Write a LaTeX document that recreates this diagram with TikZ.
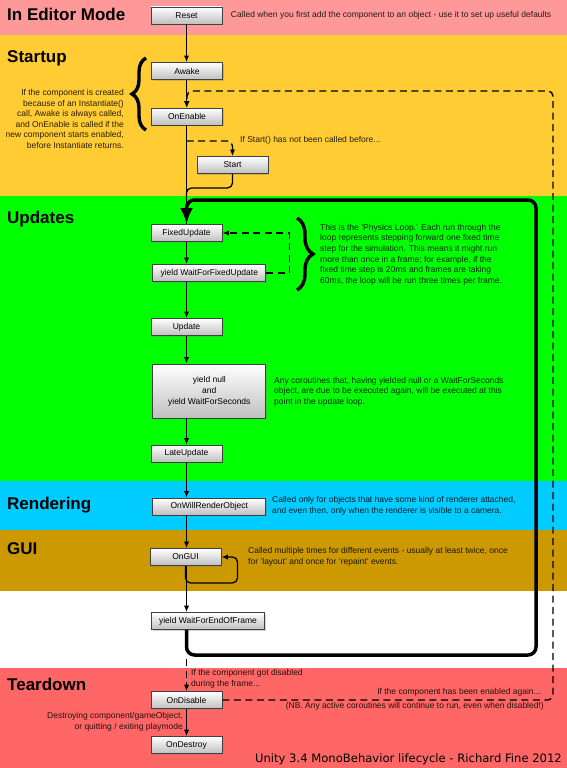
\documentclass[tikz,border=0pt]{standalone}
\usepackage{fontspec}
\setmainfont{Liberation Sans}
\newfontfamily\titlefont{DejaVu Sans}
\usetikzlibrary{arrows.meta, positioning, calc, shadows, decorations.pathreplacing}
\definecolor{editorpink}{RGB}{255,153,153}
\definecolor{startupyellow}{RGB}{255,204,51}
\definecolor{updategreen}{RGB}{0,255,0}
\definecolor{rendercyan}{RGB}{0,204,255}
\definecolor{guigold}{RGB}{204,153,0}
\definecolor{teardownred}{RGB}{255,102,102}
\tikzset{
    method/.style={rectangle, draw=black!75, line width=0.9pt, top color=white, bottom color=black!25, minimum width=71pt, minimum height=17pt, inner sep=0pt, align=center, font=\fontsize{8.5}{11}\selectfont, drop shadow={shadow xshift=1.2pt, shadow yshift=-1.2pt, opacity=0.35}},
    widemethod/.style={method, minimum width=113pt},
    note/.style={inner sep=0pt, font=\fontsize{8.5}{10.6}\selectfont, text opacity=0.85},
    phase/.style={anchor=base west, inner sep=0pt, font=\fontsize{17}{17}\selectfont\bfseries},
    flow/.style={-{Latex[length=6.5pt,width=5.5pt]}, line width=1.3pt},
    maybe/.style={-{Latex[length=6.5pt,width=5.5pt]}, line width=1.4pt, dash pattern=on 7pt off 4.5pt},
    frameloop/.style={-{Latex[length=16pt,width=13pt]}, line width=3.5pt, rounded corners=8pt},
    curly/.style={line width=3.4pt, decorate, decoration={brace, amplitude=#1}},
}

\begin{document}
\begin{tikzpicture}[x=1pt, y=-1pt]
    \useasboundingbox (0,0) rectangle (567,768);
    % phase bands
    \fill[editorpink] (0,0) rectangle (567,35);
    \fill[startupyellow] (0,35) rectangle (567,196);
    \fill[updategreen] (0,196) rectangle (567,481);
    \fill[rendercyan] (0,481) rectangle (567,530);
    \fill[guigold] (0,530) rectangle (567,591);
    \fill[white] (0,591) rectangle (567,668);
    \fill[teardownred] (0,668) rectangle (567,768);
    \node[phase] (editorhead) at (7,21) {In Editor Mode};
    \node[phase] (startuphead) at (7,63) {Startup};
    \node[phase] (updatehead) at (7,223) {Updates};
    \node[phase] (renderhead) at (7,509) {Rendering};
    \node[phase] (guihead) at (7,554.5) {GUI};
    \node[phase] (teardownhead) at (7,690.5) {Teardown};

    % methods
    \coordinate (spine) at (186.5,0);
    \node[method] (reset) at (186.5,15.5) {Reset};
    \node[method] (awake) at (187,71) {Awake};
    \node[method] (onenable) at (187,116.5) {OnEnable};
    \node[method] (start) at (232.5,165) {Start};
    \node[method] (fixedupdate) at (186.5,233) {FixedUpdate};
    \node[widemethod] (waitfixed) at (209.3,273) {yield WaitForFixedUpdate};
    \node[method] (update) at (186.5,327) {Update};
    \node[widemethod, minimum height=54pt] (yieldnull) at (209.3,391) {yield null\\and\\yield WaitForSeconds};
    \node[method] (lateupdate) at (186.5,453.5) {LateUpdate};
    \node[widemethod] (willrender) at (209.3,506.5) {OnWillRenderObject};
    \node[method] (ongui) at (185.5,557) {OnGUI};
    \node[widemethod] (endofframe) at (208,621) {yield WaitForEndOfFrame};
    \node[method] (ondisable) at (186.5,700) {OnDisable};
    \node[method] (ondestroy) at (186.5,745) {OnDestroy};

    % notes
    \node[note, anchor=west] (resetnote) at (230.7,15.5) {Called when you first add the component to an object - use it to set up useful defaults};
    \node[note, anchor=east, align=right] (instantiatenote) at (124,119) {If the component is created\\because of an Instantiate()\\call, Awake is always called,\\and OnEnable is called if the\\new component starts enabled,\\before Instantiate returns.};
    \node[note, anchor=west] (startnote) at (240,140) {If Start() has not been called before...};
    \node[note, anchor=west, align=left] (physicsnote) at (320,254.5) {This is the 'Physics Loop.' Each run through the\\loop represents stepping forward one fixed time\\step for the simulation. This means it might run\\more than once in a frame; for example, if the\\fixed time step is 20ms and frames are taking\\60ms, the loop will be run three times per frame.};
    \node[note, anchor=west, align=left] (coroutinenote) at (274,391.5) {Any coroutines that, having yielded null or a WaitForSeconds\\object, are due to be executed again, will be executed at this\\point in the update loop.};
    \node[note, anchor=west, align=left] (rendernote) at (272,505.5) {Called only for objects that have some kind of renderer attached,\\and even then, only when the renderer is visible to a camera.};
    \node[note, anchor=west, align=left] (guinote) at (248,556.5) {Called multiple times for different events - usually at least twice, once\\for 'layout' and once for 'repaint' events.};
    \node[note, anchor=west, align=left] (disablednote) at (191,679) {If the component got disabled\\during the frame...};
    \node[note, anchor=east] (enablednote) at (541,692) {If the component has been enabled again...};
    \node[note, anchor=east] (coroutinewarn) at (544,706) {(NB. Any active coroutines will continue to run, even when disabled!)};
    \node[note, anchor=east, align=right, font=\fontsize{8.5}{11}\selectfont] (destroynote) at (183,722) {Destroying component/gameObject,\\or quitting / exiting playmode};
    \node[anchor=base east, inner sep=0pt, font=\titlefont\fontsize{11.6}{12}\selectfont] (credit) at (562,762) {Unity 3.4 MonoBehavior lifecycle - Richard Fine 2012};

    % braces
    \draw[curly=14pt] (146,130) -- (146,58);
    \draw[curly=16pt] (297,218) -- (297,290);

    % main flow
    \draw[flow] (reset.south -| spine) -- (awake.north -| spine);
    \draw[flow] (awake.south -| spine) -- (onenable.north -| spine);
    \draw[line width=1.3pt] (onenable.south -| spine) -- (fixedupdate.north -| spine);
    \coordinate (startfork) at (186.5,141);
    \coordinate (startjoin) at (186.5,200);
    \draw[maybe, rounded corners=5pt] (startfork) -| (start.north);
    \draw[line width=1.3pt, rounded corners=5pt] (start.south) -- ++(0,14) -| (startjoin);
    \draw[flow] (fixedupdate.south -| spine) -- (waitfixed.north -| spine);
    \draw[maybe] (waitfixed.east) -- ++(23,0) |- (fixedupdate.east);
    \draw[flow] (waitfixed.south -| spine) -- (update.north -| spine);
    \draw[flow] (update.south -| spine) -- (yieldnull.north -| spine);
    \draw[flow] (yieldnull.south -| spine) -- (lateupdate.north -| spine);
    \draw[flow] (lateupdate.south -| spine) -- (willrender.north -| spine);
    \draw[flow] (willrender.south -| spine) -- (ongui.north -| spine);
    \draw[flow, rounded corners=5pt] (ongui.south) -- ++(0,17) -- ++(52,0) |- (ongui.east);
    \draw[flow] (ongui.south -| spine) -- (endofframe.north -| spine);
    \coordinate (loopcorner) at (186.5,655);
    \draw[frameloop] (endofframe.south -| spine) -- (loopcorner) -- (536,655) -- (536,200) -- (startjoin) -- (fixedupdate.north -| spine);

    % teardown
    \coordinate (loopexit) at (186.5,659);
    \draw[maybe] (loopexit) -- (ondisable.north -| spine);
    \draw[maybe, rounded corners=5pt] (ondisable.east) -- (553,700) -- (553,91) -| (onenable.north);
    \draw[flow] (ondisable) -- (ondestroy);
\end{tikzpicture}
\end{document}
